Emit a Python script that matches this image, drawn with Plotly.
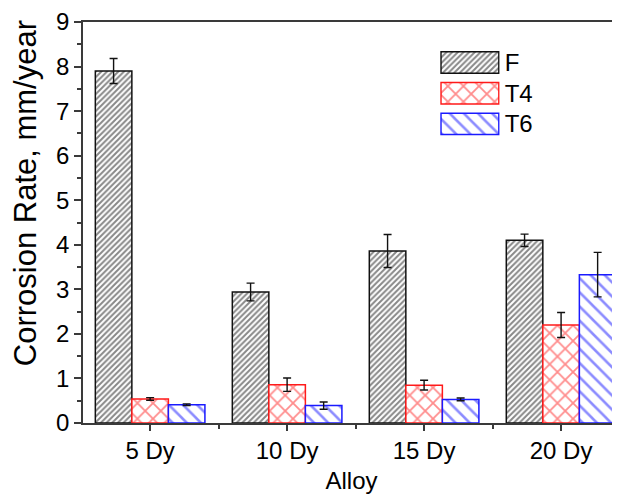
import plotly.graph_objects as go

categories = ["5 Dy", "10 Dy", "15 Dy", "20 Dy"]
series = ["F", "T4", "T6"]
F_vals = [7.90, 2.94, 3.86, 4.10]
F_err = [0.28, 0.20, 0.37, 0.14]
T4_vals = [0.54, 0.86, 0.85, 2.20]
T4_err = [0.03, 0.15, 0.11, 0.28]
T6_vals = [0.41, 0.39, 0.53, 3.33]
T6_err = [0.02, 0.08, 0.03, 0.50]
y_title = "Corrosion Rate, mm/year"
x_title = "Alloy"

colors = ["#111111", "#ff1a1a", "#1a1aff"]
shapes = ["/", "x", "\\"]
psizes = [4, 11, 10]
psolid = [0.5, 0.3, 0.26]

xs = list(range(len(categories)))
FONT = "Liberation Sans, Arial, sans-serif"
FS = 24

fig = go.Figure()
for i, (name, vals, errs) in enumerate(zip(series, [F_vals, T4_vals, T6_vals], [F_err, T4_err, T6_err])):
    fig.add_trace(go.Bar(
        x=xs, y=vals, name=name, showlegend=False,
        marker=dict(color="white",
                    line=dict(color=colors[i], width=1.5),
                    pattern=dict(shape=shapes[i], fgcolor=colors[i], bgcolor="white",
                                 size=psizes[i], solidity=psolid[i], fillmode="overlay")),
        error_y=dict(type="data", array=errs, visible=True, color="#111111", thickness=1.4, width=4),
    ))

# legend swatches drawn on an auxiliary axis
fig.add_trace(go.Bar(
    y=series, x=[1] * len(series), orientation="h", width=0.7,
    xaxis="x2", yaxis="y2", showlegend=False, hoverinfo="skip",
    marker=dict(color="white", line=dict(color=colors, width=1.5),
                pattern=dict(shape=shapes, fgcolor=colors, bgcolor="white",
                             size=psizes, solidity=psolid, fillmode="overlay")),
))

axis_col = "#3a3a3a"
# page body has an 8px margin; size the figure so the plot area lands where the reference has it
fig.update_layout(
    width=612, height=491,
    margin=dict(l=75, r=0, t=11, b=76),
    paper_bgcolor="white", plot_bgcolor="white",
    font=dict(family=FONT, size=FS, color="black"),
    barmode="group", bargap=0.2, bargroupgap=0,
    xaxis=dict(range=[-0.49, 3.43], tickvals=xs, ticktext=categories,
               ticks="outside", ticklen=6, tickwidth=1.5, tickcolor=axis_col,
               minor=dict(dtick=0.5, tick0=0, ticks="outside", ticklen=4, tickwidth=1.5, tickcolor=axis_col),
               showline=True, linecolor=axis_col, linewidth=1.5, mirror=True,
               showgrid=False, zeroline=False,
               tickfont=dict(size=FS), ticklabelstandoff=-1,
               title=dict(text=x_title, font=dict(size=FS), standoff=10)),
    yaxis=dict(range=[0, 9], dtick=1, ticks="outside", ticklen=7, tickwidth=1.5, tickcolor=axis_col,
               minor=dict(dtick=0.5, ticks="outside", ticklen=4, tickwidth=1.5, tickcolor=axis_col),
               showline=True, linecolor=axis_col, linewidth=1.5,
               showgrid=False, zeroline=False, ticklabeloverflow="allow",
               tickfont=dict(size=FS)),
    xaxis2=dict(domain=[0.665, 0.776], range=[-0.015, 1.015], visible=False, anchor="y2"),
    yaxis2=dict(domain=[0.7077, 0.937], anchor="x2", type="category", categoryorder="array",
                categoryarray=series, range=[2.5, -0.5], side="right",
                showgrid=False, zeroline=False, showline=False, ticks="",
                ticklabelstandoff=4, tickfont=dict(size=FS, color="black")),
    annotations=[dict(text=y_title, textangle=-90, xref="paper", yref="paper",
                      x=-0.108, y=0.573, xanchor="center", yanchor="middle",
                      showarrow=False, font=dict(size=31, color="black"))],
)

fig.write_html("out.html")
